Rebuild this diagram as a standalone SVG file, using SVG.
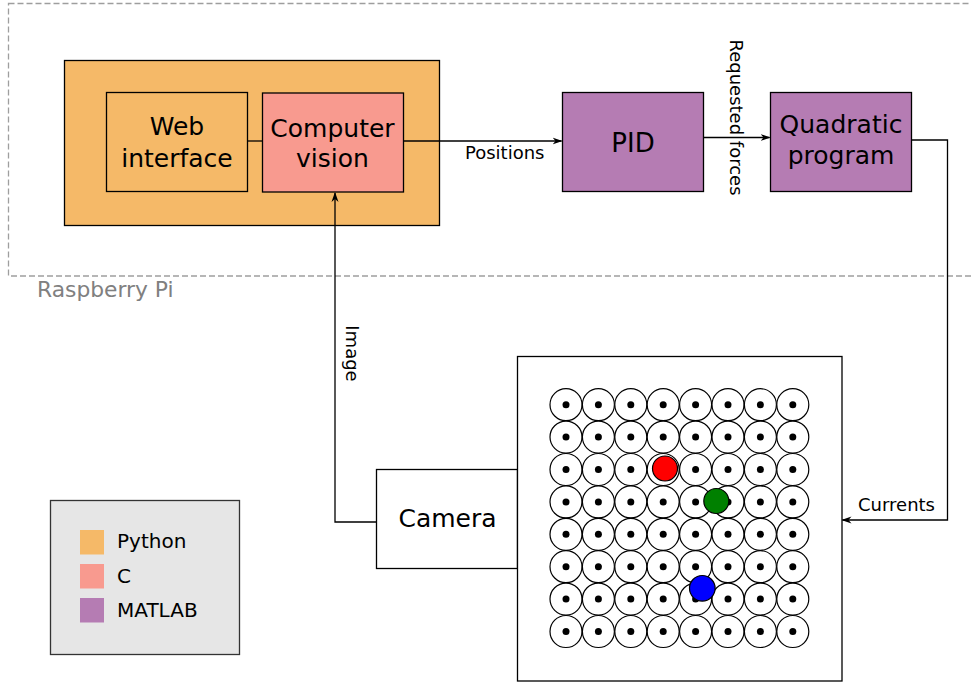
<svg xmlns="http://www.w3.org/2000/svg" width="971" height="684" viewBox="0 0 971 684">
<defs>
<marker id="arr" markerWidth="10" markerHeight="8" refX="9" refY="4" orient="auto" markerUnits="userSpaceOnUse">
<path d="M0,0.5 L10,4 L0,7.5 L3,4 Z" fill="#000"/>
</marker>
<style>
text{font-family:"DejaVu Sans","Liberation Sans",sans-serif;fill:#000}
.box{stroke:#000;stroke-width:1.3}
.big{font-size:25px;text-anchor:middle}
.lbl{font-size:18px}
.conn{fill:none;stroke:#000;stroke-width:1.3}
.cell{fill:#fff;stroke:#000;stroke-width:1.2}
.dot{fill:#000}
.ball{stroke:#000;stroke-width:1.2}
</style>
</defs>
<rect width="971" height="684" fill="#fff"/>
<g id="raspberry-pi">
<rect x="8.5" y="3.5" width="975" height="272.5" fill="none" stroke="#9e9e9e" stroke-width="1.3" stroke-dasharray="6,3"/>
<text x="37" y="297" style="font-size:21.8px;fill:#808080">Raspberry Pi</text>
</g>
<g id="python-block">
<rect class="box" x="64.5" y="60.5" width="375" height="165" fill="#f5b968"/>
</g>
<g id="web-interface">
<rect class="box" x="106.5" y="92.5" width="141" height="99" fill="#f5b968"/>
<text class="big" x="177" y="135">Web</text>
<text class="big" x="177" y="166.5">interface</text>
</g>
<g id="computer-vision">
<rect class="box" x="262.5" y="93" width="141" height="99" fill="#f89a8f"/>
<text class="big" x="332.5" y="136.5">Computer</text>
<text class="big" x="332.5" y="167">vision</text>
</g>
<g id="pid">
<rect class="box" x="562.5" y="92.5" width="141" height="99" fill="#b57cb3"/>
<text class="big" x="633" y="152" style="font-size:26px">PID</text>
</g>
<g id="quadratic-program">
<rect class="box" x="770.5" y="92.5" width="141" height="99" fill="#b57cb3"/>
<text class="big" x="841" y="133">Quadratic</text>
<text class="big" x="841" y="163.5">program</text>
</g>
<g id="camera">
<rect class="box" x="376.5" y="469.5" width="141" height="99" fill="#fff"/>
<text class="big" x="447.5" y="526.5">Camera</text>
</g>
<g id="coil-grid">
<rect class="box" x="517.5" y="356.5" width="324.5" height="324.5" fill="#fff"/>
<g id="cells">
<circle class="cell" cx="566" cy="404.7" r="16"/><circle class="cell" cx="598.4" cy="404.7" r="16"/><circle class="cell" cx="630.8" cy="404.7" r="16"/><circle class="cell" cx="663.2" cy="404.7" r="16"/><circle class="cell" cx="695.6" cy="404.7" r="16"/><circle class="cell" cx="728" cy="404.7" r="16"/><circle class="cell" cx="760.4" cy="404.7" r="16"/><circle class="cell" cx="792.8" cy="404.7" r="16"/>
<circle class="cell" cx="566" cy="437.1" r="16"/><circle class="cell" cx="598.4" cy="437.1" r="16"/><circle class="cell" cx="630.8" cy="437.1" r="16"/><circle class="cell" cx="663.2" cy="437.1" r="16"/><circle class="cell" cx="695.6" cy="437.1" r="16"/><circle class="cell" cx="728" cy="437.1" r="16"/><circle class="cell" cx="760.4" cy="437.1" r="16"/><circle class="cell" cx="792.8" cy="437.1" r="16"/>
<circle class="cell" cx="566" cy="469.5" r="16"/><circle class="cell" cx="598.4" cy="469.5" r="16"/><circle class="cell" cx="630.8" cy="469.5" r="16"/><circle class="cell" cx="663.2" cy="469.5" r="16"/><circle class="cell" cx="695.6" cy="469.5" r="16"/><circle class="cell" cx="728" cy="469.5" r="16"/><circle class="cell" cx="760.4" cy="469.5" r="16"/><circle class="cell" cx="792.8" cy="469.5" r="16"/>
<circle class="cell" cx="566" cy="501.9" r="16"/><circle class="cell" cx="598.4" cy="501.9" r="16"/><circle class="cell" cx="630.8" cy="501.9" r="16"/><circle class="cell" cx="663.2" cy="501.9" r="16"/><circle class="cell" cx="695.6" cy="501.9" r="16"/><circle class="cell" cx="728" cy="501.9" r="16"/><circle class="cell" cx="760.4" cy="501.9" r="16"/><circle class="cell" cx="792.8" cy="501.9" r="16"/>
<circle class="cell" cx="566" cy="534.3" r="16"/><circle class="cell" cx="598.4" cy="534.3" r="16"/><circle class="cell" cx="630.8" cy="534.3" r="16"/><circle class="cell" cx="663.2" cy="534.3" r="16"/><circle class="cell" cx="695.6" cy="534.3" r="16"/><circle class="cell" cx="728" cy="534.3" r="16"/><circle class="cell" cx="760.4" cy="534.3" r="16"/><circle class="cell" cx="792.8" cy="534.3" r="16"/>
<circle class="cell" cx="566" cy="566.7" r="16"/><circle class="cell" cx="598.4" cy="566.7" r="16"/><circle class="cell" cx="630.8" cy="566.7" r="16"/><circle class="cell" cx="663.2" cy="566.7" r="16"/><circle class="cell" cx="695.6" cy="566.7" r="16"/><circle class="cell" cx="728" cy="566.7" r="16"/><circle class="cell" cx="760.4" cy="566.7" r="16"/><circle class="cell" cx="792.8" cy="566.7" r="16"/>
<circle class="cell" cx="566" cy="599.1" r="16"/><circle class="cell" cx="598.4" cy="599.1" r="16"/><circle class="cell" cx="630.8" cy="599.1" r="16"/><circle class="cell" cx="663.2" cy="599.1" r="16"/><circle class="cell" cx="695.6" cy="599.1" r="16"/><circle class="cell" cx="728" cy="599.1" r="16"/><circle class="cell" cx="760.4" cy="599.1" r="16"/><circle class="cell" cx="792.8" cy="599.1" r="16"/>
<circle class="cell" cx="566" cy="631.5" r="16"/><circle class="cell" cx="598.4" cy="631.5" r="16"/><circle class="cell" cx="630.8" cy="631.5" r="16"/><circle class="cell" cx="663.2" cy="631.5" r="16"/><circle class="cell" cx="695.6" cy="631.5" r="16"/><circle class="cell" cx="728" cy="631.5" r="16"/><circle class="cell" cx="760.4" cy="631.5" r="16"/><circle class="cell" cx="792.8" cy="631.5" r="16"/>
</g>
<g id="dots">
<circle class="dot" cx="566" cy="404.7" r="3.5"/><circle class="dot" cx="598.4" cy="404.7" r="3.5"/><circle class="dot" cx="630.8" cy="404.7" r="3.5"/><circle class="dot" cx="663.2" cy="404.7" r="3.5"/><circle class="dot" cx="695.6" cy="404.7" r="3.5"/><circle class="dot" cx="728" cy="404.7" r="3.5"/><circle class="dot" cx="760.4" cy="404.7" r="3.5"/><circle class="dot" cx="792.8" cy="404.7" r="3.5"/>
<circle class="dot" cx="566" cy="437.1" r="3.5"/><circle class="dot" cx="598.4" cy="437.1" r="3.5"/><circle class="dot" cx="630.8" cy="437.1" r="3.5"/><circle class="dot" cx="663.2" cy="437.1" r="3.5"/><circle class="dot" cx="695.6" cy="437.1" r="3.5"/><circle class="dot" cx="728" cy="437.1" r="3.5"/><circle class="dot" cx="760.4" cy="437.1" r="3.5"/><circle class="dot" cx="792.8" cy="437.1" r="3.5"/>
<circle class="dot" cx="566" cy="469.5" r="3.5"/><circle class="dot" cx="598.4" cy="469.5" r="3.5"/><circle class="dot" cx="630.8" cy="469.5" r="3.5"/><circle class="dot" cx="663.2" cy="469.5" r="3.5"/><circle class="dot" cx="695.6" cy="469.5" r="3.5"/><circle class="dot" cx="728" cy="469.5" r="3.5"/><circle class="dot" cx="760.4" cy="469.5" r="3.5"/><circle class="dot" cx="792.8" cy="469.5" r="3.5"/>
<circle class="dot" cx="566" cy="501.9" r="3.5"/><circle class="dot" cx="598.4" cy="501.9" r="3.5"/><circle class="dot" cx="630.8" cy="501.9" r="3.5"/><circle class="dot" cx="663.2" cy="501.9" r="3.5"/><circle class="dot" cx="695.6" cy="501.9" r="3.5"/><circle class="dot" cx="728" cy="501.9" r="3.5"/><circle class="dot" cx="760.4" cy="501.9" r="3.5"/><circle class="dot" cx="792.8" cy="501.9" r="3.5"/>
<circle class="dot" cx="566" cy="534.3" r="3.5"/><circle class="dot" cx="598.4" cy="534.3" r="3.5"/><circle class="dot" cx="630.8" cy="534.3" r="3.5"/><circle class="dot" cx="663.2" cy="534.3" r="3.5"/><circle class="dot" cx="695.6" cy="534.3" r="3.5"/><circle class="dot" cx="728" cy="534.3" r="3.5"/><circle class="dot" cx="760.4" cy="534.3" r="3.5"/><circle class="dot" cx="792.8" cy="534.3" r="3.5"/>
<circle class="dot" cx="566" cy="566.7" r="3.5"/><circle class="dot" cx="598.4" cy="566.7" r="3.5"/><circle class="dot" cx="630.8" cy="566.7" r="3.5"/><circle class="dot" cx="663.2" cy="566.7" r="3.5"/><circle class="dot" cx="695.6" cy="566.7" r="3.5"/><circle class="dot" cx="728" cy="566.7" r="3.5"/><circle class="dot" cx="760.4" cy="566.7" r="3.5"/><circle class="dot" cx="792.8" cy="566.7" r="3.5"/>
<circle class="dot" cx="566" cy="599.1" r="3.5"/><circle class="dot" cx="598.4" cy="599.1" r="3.5"/><circle class="dot" cx="630.8" cy="599.1" r="3.5"/><circle class="dot" cx="663.2" cy="599.1" r="3.5"/><circle class="dot" cx="695.6" cy="599.1" r="3.5"/><circle class="dot" cx="728" cy="599.1" r="3.5"/><circle class="dot" cx="760.4" cy="599.1" r="3.5"/><circle class="dot" cx="792.8" cy="599.1" r="3.5"/>
<circle class="dot" cx="566" cy="631.5" r="3.5"/><circle class="dot" cx="598.4" cy="631.5" r="3.5"/><circle class="dot" cx="630.8" cy="631.5" r="3.5"/><circle class="dot" cx="663.2" cy="631.5" r="3.5"/><circle class="dot" cx="695.6" cy="631.5" r="3.5"/><circle class="dot" cx="728" cy="631.5" r="3.5"/><circle class="dot" cx="760.4" cy="631.5" r="3.5"/><circle class="dot" cx="792.8" cy="631.5" r="3.5"/>
</g>
<circle class="ball" cx="665" cy="468.5" r="12.5" fill="#ff0000"/>
<circle class="ball" cx="716.3" cy="501" r="12.5" fill="#008000"/>
<circle class="ball" cx="702.3" cy="588.3" r="12.8" fill="#0000ff"/>
</g>
<g id="legend">
<rect x="50.5" y="500.5" width="189" height="154" fill="#e6e6e6" stroke="#333" stroke-width="1.3"/>
<rect x="80" y="530" width="24" height="24.5" fill="#f5b968"/>
<rect x="80" y="564" width="24" height="24.5" fill="#f89a8f"/>
<rect x="80" y="598" width="24" height="24.5" fill="#b57cb3"/>
<text x="117" y="548" style="font-size:20px">Python</text>
<text x="117" y="583" style="font-size:20px">C</text>
<text x="117" y="617" style="font-size:20px">MATLAB</text>
</g>
<g id="connectors">
<path class="conn" d="M247.5,141 H262.5"/>
<path class="conn" d="M403.5,141 H561.5" marker-end="url(#arr)"/>
<text class="lbl" x="465" y="159">Positions</text>
<path class="conn" d="M703.5,137.5 H769.5" marker-end="url(#arr)"/>
<text class="lbl" transform="translate(730,117.5) rotate(90)" text-anchor="middle">Requested forces</text>
<path class="conn" d="M911.5,140 H947.5 V520 H842.5" marker-end="url(#arr)"/>
<text class="lbl" x="858" y="511">Currents</text>
<path class="conn" d="M376.5,522 H335 V193" marker-end="url(#arr)"/>
<text class="lbl" transform="translate(346,353.5) rotate(90)" text-anchor="middle">Image</text>
</g>
</svg>
